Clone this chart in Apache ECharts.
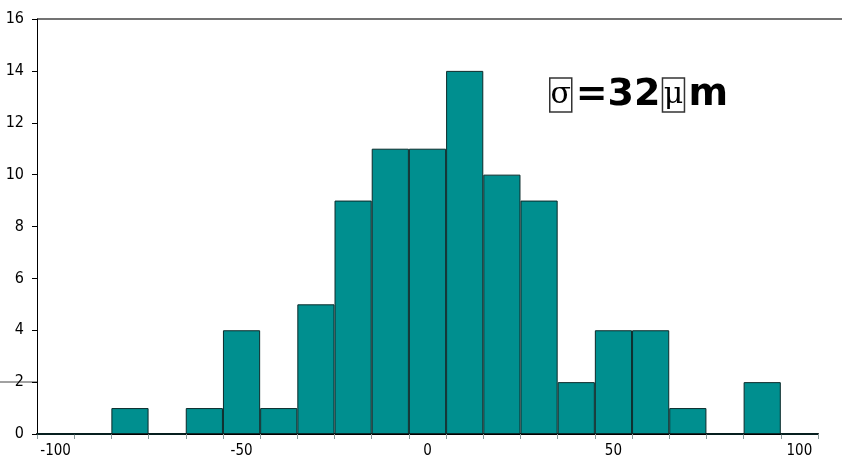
<!DOCTYPE html>
<html><head><meta charset="utf-8">
<script src="https://cdn.jsdelivr.net/npm/echarts@6/dist/echarts.min.js"></script>
<style>html,body{margin:0;padding:0;background:#fff}#c{width:842px;height:472px}</style>
</head><body><div id="c"></div>
<script>
const categories = ['-100','-90','-80','-70','-60','-50','-40','-30','-20','-10','0','10','20','30','40','50','60','70','80','90','100'];
const counts = [0,0,1,0,1,4,1,5,9,11,11,14,10,9,2,4,4,1,0,2,0];
const yTicks = [0,2,4,6,8,10,12,14,16];

const labelFont = '"Liberation Sans Narrow", "DejaVu Sans Condensed", "Liberation Sans", Arial';
const chart = echarts.init(document.getElementById('c'));
chart.setOption({
  animation: false,
  grid: {left: 37, right: 24, top: 19, bottom: 38},
  xAxis: {
    type: 'category', data: categories,
    axisLine: {lineStyle: {color: '#000', width: 2}},
    axisTick: {show: true, interval: 0, length: 5, lineStyle: {color: '#8a9a9a'}},
    axisLabel: {interval: 4, color: '#000', fontSize: 15, fontFamily: labelFont, margin: 10}
  },
  yAxis: {
    type: 'value', min: 0, max: 16, interval: 2,
    axisLine: {show: true, lineStyle: {color: '#000', width: 1}},
    axisTick: {show: true, length: 5, lineStyle: {color: '#000'}},
    splitLine: {show: false},
    axisLabel: {color: '#000', fontSize: 16, fontFamily: labelFont, margin: 13}
  },
  series: [{
    type: 'bar', data: counts, barCategoryGap: '0%',
    itemStyle: {color: '#008f8f', borderColor: '#0a2a2a', borderWidth: 1}
  }],
  graphic: [
    {type: 'line', shape: {x1: 37, y1: 19, x2: 842, y2: 19}, style: {stroke: '#444', lineWidth: 1.5}},
    {type: 'line', shape: {x1: 0, y1: 382, x2: 37, y2: 382}, style: {stroke: '#444', lineWidth: 1}},
    {type: 'text', left: 549, top: 76, style: {
      text: '{s|σ}{b|=32}{u|μ}{b|m}',
      rich: {
        s: {fontFamily: 'DejaVu Serif', fontSize: 30, fill: '#000', borderColor: '#333', borderWidth: 1.5, width: 22, align: 'center', height: 34},
        b: {fontFamily: 'DejaVu Sans', fontWeight: 'bold', fontSize: 38, fill: '#000', padding: [0, 2, 0, 4]},
        u: {fontFamily: 'DejaVu Serif', fontSize: 30, fill: '#000', borderColor: '#333', borderWidth: 1.5, width: 22, align: 'center', height: 34}
      }
    }}
  ]
});
</script></body></html>
